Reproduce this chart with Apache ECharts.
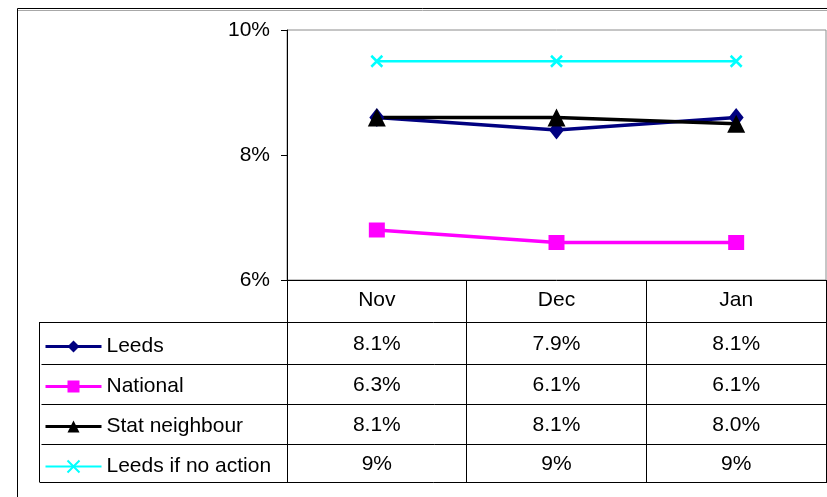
<!DOCTYPE html>
<html>
<head>
<meta charset="utf-8">
<title>Leeds rate</title>
<script src="https://cdn.jsdelivr.net/npm/echarts@6/dist/echarts.min.js"></script>
<style>
  html, body { margin: 0; padding: 0; background: #fff; }
  #chart { width: 827px; height: 497px; }
</style>
</head>
<body>
<div id="chart"></div>
<script>
// ---- data ----
const months = ['Nov', 'Dec', 'Jan'];
const seriesNames = ['Leeds', 'National', 'Stat neighbour', 'Leeds if no action'];
const leeds = [8.1, 7.9, 8.1];
const national = [6.3, 6.1, 6.1];
const statNeighbour = [8.1, 8.1, 8.0];
const leedsNoAction = [9, 9, 9];
const tableDecimals = [1, 1, 1, 0];
// value axis runs 5.5..9.5 in steps of 2, labels shown as whole percents
const yMin = 5.5, yMax = 9.5, yStep = 2;

const seriesValues = [leeds, national, statNeighbour, leedsNoAction];

// ---- layout ----
const FONT = 'Arial, "Liberation Sans", sans-serif';
const plot = { left: 287, top: 30, width: 539, height: 250 };
const plotBottom = plot.top + plot.height;
const tableLeft = 39.5;
const tableRight = 827;
const rowLines = [322, 364, 404, 444, 482];
const rowCenters = rowLines.slice(0, -1).map((y, i) => (y + rowLines[i + 1]) / 2);

const looks = [
  { color: '#000080', symbol: 'diamond', size: [15, 19], width: 3.5, keyWidth: 3 },
  { color: '#FF00FF', symbol: 'rect', size: [16, 15], width: 3.5, keyWidth: 3 },
  { color: '#000000', symbol: 'triangle', size: [18, 18], width: 3.5, keyWidth: 3 },
  { color: '#00FFFF', symbol: 'path://M0,0L10,10M10,0L0,10', size: [11, 11], width: 2.5, keyWidth: 2 }
];

const textBase = { fontFamily: FONT, fontSize: 21, color: '#000' };

// first x axis: header row + column rules drawn as long ticks
const xAxes = [{
  type: 'category',
  data: months,
  boundaryGap: true,
  axisLine: { show: true, lineStyle: { color: '#000', width: 1 } },
  axisTick: { show: true, interval: 0, inside: false, length: rowLines[rowLines.length - 1] - plotBottom,
              lineStyle: { color: '#000', width: 1 } },
  axisLabel: Object.assign({ interval: 0, margin: 20, verticalAlign: 'middle' }, textBase),
  splitLine: { show: false }
}];
// one extra axis per table row carrying the values
seriesValues.forEach((vals, i) => {
  xAxes.push({
    type: 'category',
    data: months,
    position: 'bottom',
    offset: rowCenters[i] - plotBottom + 1.5,
    axisLine: { show: false },
    axisTick: { show: false },
    splitLine: { show: false },
    axisLabel: Object.assign({
      interval: 0, margin: 0, verticalAlign: 'middle',
      formatter: (v, idx) => vals[idx].toFixed(tableDecimals[i]) + '%'
    }, textBase)
  });
});

const graphics = [
  // outer frame
  { type: 'rect', silent: true, shape: { x: 17.5, y: 8.5, width: 1200, height: 1200 },
    style: { fill: 'transparent', stroke: '#000', lineWidth: 1 } },
  { type: 'line', silent: true, shape: { x1: 18, y1: 10.5, x2: 827, y2: 10.5 },
    style: { stroke: '#a8a8a8', lineWidth: 1 } },
  // table left edge
  { type: 'line', silent: true, shape: { x1: tableLeft, y1: rowLines[0], x2: tableLeft, y2: rowLines[rowLines.length - 1] },
    style: { stroke: '#000', lineWidth: 1 } }
];
rowLines.forEach((y, i) => {
  const edge = (i === 0 || i === rowLines.length - 1);
  graphics.push({ type: 'line', silent: true,
    shape: { x1: edge ? tableLeft : tableLeft + 2, y1: y + 0.5, x2: tableRight, y2: y + 0.5 },
    style: { stroke: '#000', lineWidth: 1 } });
});

const option = {
  animation: false,
  backgroundColor: '#fff',
  grid: {
    left: plot.left, top: plot.top, width: plot.width, height: plot.height,
    show: true, borderColor: '#8c8c8c', borderWidth: 1, backgroundColor: 'transparent',
    containLabel: false, outerBoundsMode: 'none'
  },
  legend: {
    orient: 'vertical',
    left: 44,
    top: rowCenters[0] - 10.5 + 3.5,
    padding: 0,
    itemWidth: 56,
    itemHeight: 15,
    itemGap: 19,
    selectedMode: false,
    textStyle: { fontFamily: FONT, fontSize: 21, color: '#000' },
    data: seriesNames.map((name, i) => ({
      name: name,
      lineStyle: { width: looks[i].keyWidth, color: looks[i].color }
    }))
  },
  xAxis: xAxes,
  yAxis: {
    type: 'value',
    min: yMin, max: yMax, interval: yStep,
    axisLine: { show: true, lineStyle: { color: '#000', width: 1 } },
    axisTick: { show: true, inside: false, length: 6, lineStyle: { color: '#000', width: 1 } },
    axisLabel: Object.assign({ margin: 17, formatter: v => Math.round(v) + '%' }, textBase),
    splitLine: { show: false }
  },
  series: seriesNames.map((name, i) => ({
    name: name,
    type: 'line',
    xAxisIndex: 0,
    data: seriesValues[i],
    symbol: looks[i].symbol,
    symbolSize: looks[i].size,
    showAllSymbol: true,
    lineStyle: { color: looks[i].color, width: looks[i].width },
    itemStyle: i === 3
      ? { color: looks[i].color, borderColor: looks[i].color, borderWidth: 2.5 }
      : { color: looks[i].color, borderWidth: 0 },
    emphasis: { disabled: true }
  })),
  graphic: graphics
};

const chart = echarts.init(document.getElementById('chart'), null, { renderer: 'canvas' });
chart.setOption(option);
</script>
</body>
</html>
